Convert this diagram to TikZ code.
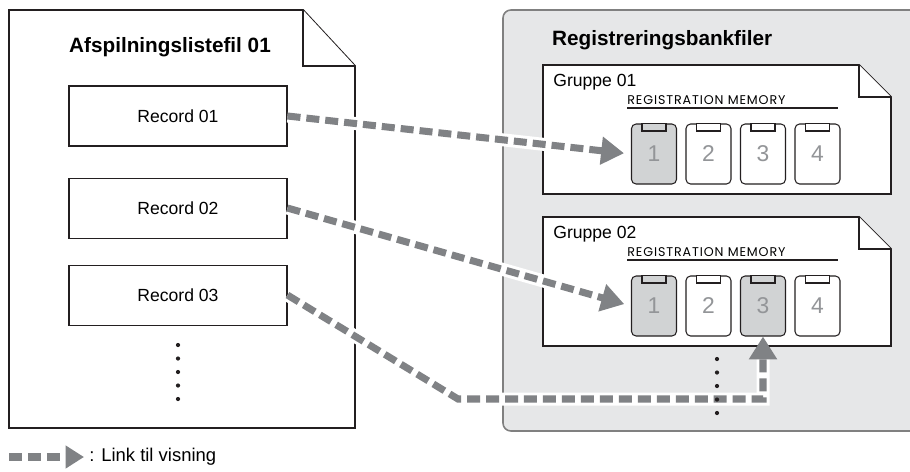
\documentclass[tikz,border=0pt]{standalone}
\usepackage{fontspec}
\setmainfont{Liberation Sans}
\newfontfamily\memfont[LetterSpace=7]{Poppins}
\usepackage{tikz}
\usetikzlibrary{arrows.meta, positioning}
\definecolor{docblack}{HTML}{231F20}
\definecolor{panelgray}{HTML}{E6E7E8}
\definecolor{panelline}{HTML}{808080}
\definecolor{keygray}{HTML}{D1D3D4}
\definecolor{linkgray}{HTML}{808285}
\definecolor{numgray}{HTML}{939598}

\begin{document}
\begin{tikzpicture}[
    x=0.02cm, y=-0.02cm,
    node distance=0.6cm and 0.18cm,
    doc/.style={
        draw=docblack,
        line width=1.1pt,
        fill=white
    },
    record/.style={
        rectangle,
        draw=docblack,
        line width=0.6pt,
        fill=white,
        minimum width=4.36cm,
        minimum height=1.2cm,
        inner sep=0pt,
        font=\fontsize{10}{12}\selectfont
    },
    memkey/.style={
        rectangle,
        draw=docblack,
        line width=0.6pt,
        rounded corners=2.6pt,
        minimum width=0.9cm,
        minimum height=1.2cm,
        inner sep=0pt,
        text=numgray,
        font=\fontsize{13}{15}\selectfont
    },
    link/.style={
        draw=linkgray,
        line width=4pt,
        dash pattern=on 7.4pt off 3.4pt,
        -{Triangle[length=13pt, width=15.3pt]},
        preaction={draw=white, solid, line width=7.4pt, -, shorten >=0.3cm}
    },
    heading/.style={
        font=\fontsize{11.8}{14}\selectfont\bfseries
    }
]
    \useasboundingbox (0,0) rectangle (910,471);

    \draw [doc] (9,10) -- (303,10) -- (355,66) -- (355,428) -- (9,428) -- cycle;
    \draw [doc] (303,10) -- (303,66) -- (355,66);
    \node [heading] (listtitle) at (170,47) {Afspilningslistefil 01};

    \node [record] (rec1) at (178,116) {Record 01};
    \node [record, below=0.62cm of rec1] (rec2) {Record 02};
    \node [record, below=0.52cm of rec2] (rec3) {Record 03};
    \foreach \k in {0,...,4}
        \fill [docblack] (178,345+13.5*\k) circle (1.2pt);

    \draw [fill=panelgray, draw=panelline, line width=0.9pt, rounded corners=4.5pt]
        (503,10) rectangle (930,431);
    \node [heading, anchor=west] (banktitle) at (546,40) {Registreringsbankfiler};

    \foreach \g/\dy/\fa/\fb/\fc/\fd in {1/0/keygray/white/white/white, 2/152/keygray/white/keygray/white} {
        \draw [doc] (543,65+\dy) -- (859,65+\dy) -- (891,97+\dy) -- (891,194+\dy) -- (543,194+\dy) -- cycle;
        \draw [doc] (859,65+\dy) -- (859,97+\dy) -- (891,97+\dy);
        \node [anchor=west, inner sep=0pt, font=\fontsize{10}{12}\selectfont] (grp\g) at (553,82+\dy) {Gruppe 0\g};
        \node [anchor=west, inner sep=0pt, font=\memfont\fontsize{7.2}{9}\selectfont] (mem\g) at (627,100+\dy) {REGISTRATION MEMORY};
        \draw [docblack, line width=0.6pt] (627,108+\dy) -- (838,108+\dy);
        \foreach \n/\f in {1/\fa, 2/\fb, 3/\fc, 4/\fd} {
            \node [memkey, fill=\f] (g\g-\n) at (654+54.5*\n-54.5,154+\dy) {\n};
            \draw [docblack, fill=\f, line width=0.6pt]
                ([xshift=-0.24cm]g\g-\n.north) rectangle ([xshift=0.24cm, yshift=-0.15cm]g\g-\n.north);
        }
    }

    \coordinate (bend) at (458,399);
    \draw [link, shorten >=0.14cm] (rec1.east) -- (g1-1.west);
    \draw [link, shorten >=0.14cm] (rec2.east) -- (g2-1.west);
    \draw [link] (rec3.east) -- (bend) -| (g2-3.south);

    \foreach \k in {0,...,4}
        \fill [docblack] (717,359+13.5*\k) circle (1.2pt);

    \coordinate (keyA) at (9,457);
    \coordinate (keyB) at (84,457);
    \draw [link, -{Triangle[length=10.5pt, width=12.5pt]}] (keyA) -- (keyB);
    \node [anchor=west, inner sep=0pt, font=\fontsize{10.5}{12}\selectfont] (keytext) at (89,457) {: Link til visning};

\end{tikzpicture}
\end{document}
